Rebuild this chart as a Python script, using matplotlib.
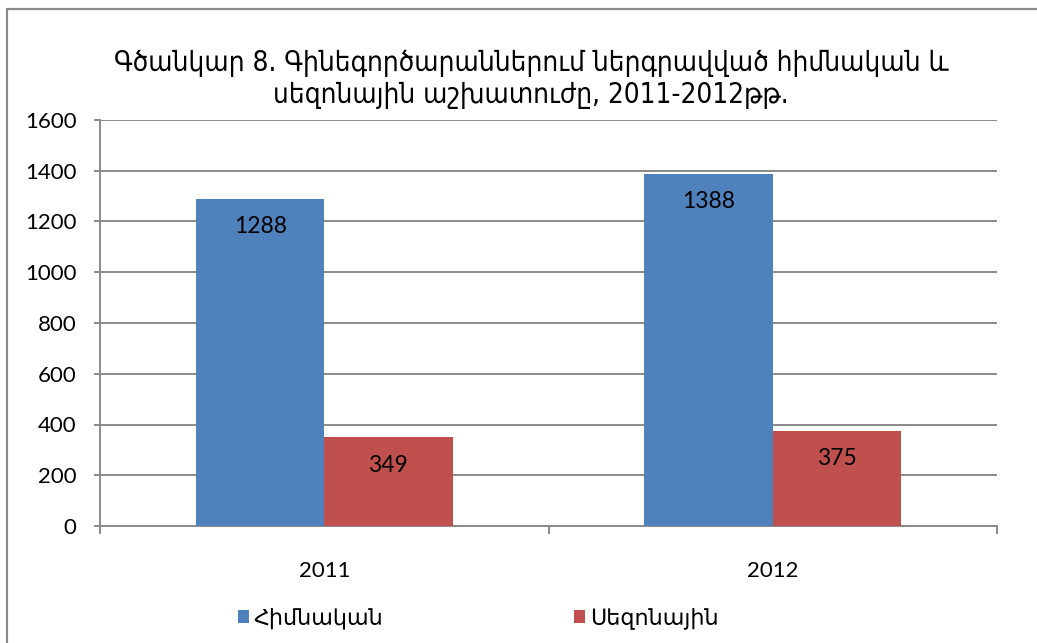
import matplotlib
matplotlib.use("Agg")
import matplotlib.pyplot as plt
from matplotlib.patches import Rectangle
import numpy as np

years = ["2011", "2012"]
series_names = ["Հիմնական", "Սեզոնային"]
basic = [1288, 1388]
seasonal = [349, 375]
colors = ["#4F81BD", "#C0504D"]
title = "Գծանկար 8. Գինեգործարաններում ներգրավված հիմնական և\nսեզոնային աշխատուժը, 2011-2012թթ."

W, H = 1037, 643
fig = plt.figure(figsize=(W / 100, H / 100), dpi=100)
fig.patch.set_facecolor("white")

# outer chart border
fig.patches.append(Rectangle((7 / W, -0.2), 1.5, 1.2 - 9 / H, transform=fig.transFigure,
                             fill=False, edgecolor="#8a8a8a", lw=1.6, zorder=0))

ax = fig.add_axes([100 / W, 1 - 526 / H, 897 / W, 406 / H])
x = np.arange(len(years))
bw = 0.286
fam = ["Lato", "DejaVu Sans"]

b1 = ax.bar(x - bw / 2, basic, bw, color=colors[0], label=series_names[0], zorder=3)
b2 = ax.bar(x + bw / 2, seasonal, bw, color=colors[1], label=series_names[1], zorder=3)

for bars, vals in ((b1, basic), (b2, seasonal)):
    for r, v in zip(bars, vals):
        ax.annotate(str(v), (r.get_x() + r.get_width() / 2, v), xytext=(0, -20),
                    textcoords="offset points", ha="center", va="center",
                    fontsize=16.5, family=fam, color="black", zorder=4)

ax.set_xlim(-0.5, 1.5)
ax.set_ylim(0, 1600)
ax.set_yticks(np.arange(0, 1601, 200))
ax.yaxis.grid(True, color="#8a8a8a", lw=1.4, zorder=0)
ax.set_axisbelow(True)

ax.set_xticks([-0.5, 0.5, 1.5])
ax.set_xticklabels([])
ax.set_xticks(x, minor=True)
ax.set_xticklabels(years, minor=True, fontsize=16, family=fam)
ax.tick_params(axis="x", which="major", length=6, width=1.4, color="#8a8a8a", direction="out")
ax.tick_params(axis="x", which="minor", length=0, pad=25)
ax.tick_params(axis="y", length=4, width=1.4, color="#8a8a8a", pad=13, labelsize=16)
for lab in ax.get_yticklabels():
    lab.set_family(fam)

for s in ("top", "right"):
    ax.spines[s].set_visible(False)
for s in ("left", "bottom"):
    ax.spines[s].set_color("#8a8a8a")
    ax.spines[s].set_linewidth(1.4)

fig.text(531 / W, 1 - 79 / H, title, ha="center", va="center", fontsize=20,
         family=["DejaVu Sans"], fontstretch="condensed", linespacing=1.15)

leg = fig.legend(handles=[b1, b2], labels=series_names, loc="center",
                 bbox_to_anchor=(478 / W, 1 - 618 / H), ncol=2, frameon=False,
                 prop={"family": fam, "size": 16}, handlelength=0.5, handleheight=0.5,
                 handletextpad=0.2, columnspacing=8.6)

fig.savefig("out.png", dpi=100, facecolor="white")
